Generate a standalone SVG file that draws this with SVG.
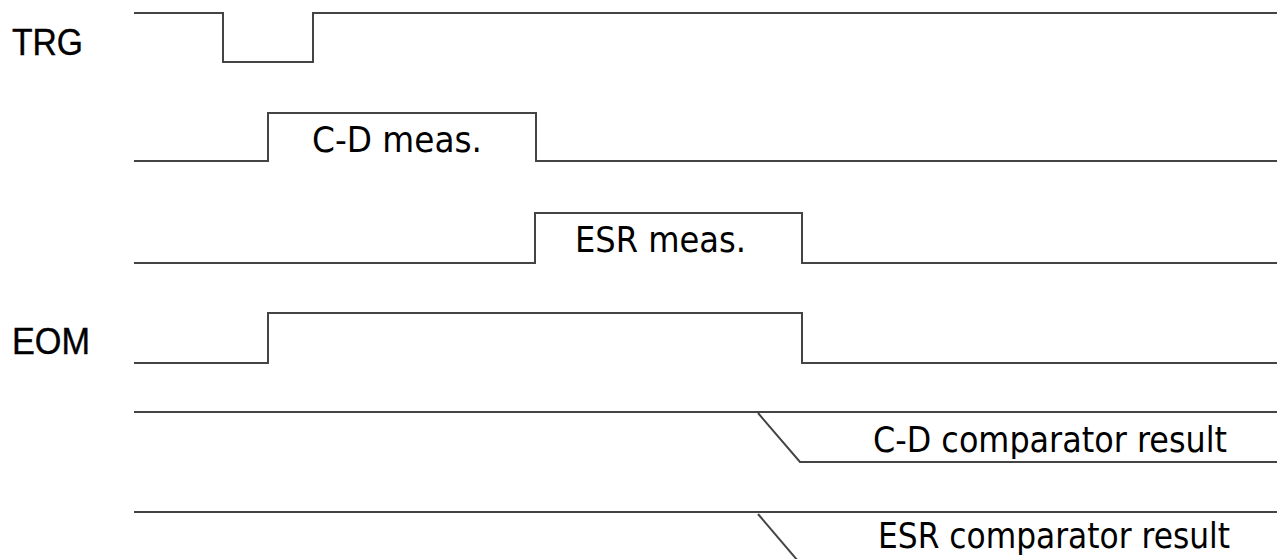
<svg xmlns="http://www.w3.org/2000/svg" width="1277" height="559" viewBox="0 0 1277 559">
<style>
.sig{fill:none;stroke:#444;stroke-width:2;stroke-linejoin:miter}
.lbl{font-family:"Liberation Sans",Arial,sans-serif;font-size:37px;fill:#000;stroke:#000;stroke-width:0.4}
.t{font-family:"DejaVu Sans",Verdana,sans-serif;font-size:35px;fill:#000}
</style>
<rect width="1277" height="559" fill="#fff"/>
<g id="trg">
<text class="lbl" x="12" y="55" textLength="71" lengthAdjust="spacingAndGlyphs">TRG</text>
<path class="sig" d="M134,13 H223 V62 H313 V13 H1277"/>
</g>
<g id="cd-meas">
<path class="sig" d="M134,161 H268 V113 H536 V161 H1277"/>
<text class="t" x="312" y="152" textLength="170" lengthAdjust="spacingAndGlyphs">C-D meas.</text>
</g>
<g id="esr-meas">
<path class="sig" d="M134,263 H535 V213 H802 V263 H1277"/>
<text class="t" x="575" y="252" textLength="171" lengthAdjust="spacingAndGlyphs">ESR meas.</text>
</g>
<g id="eom">
<text class="lbl" x="12" y="354" textLength="78" lengthAdjust="spacingAndGlyphs">EOM</text>
<path class="sig" d="M134,363 H268 V313 H802 V363 H1277"/>
</g>
<g id="cd-comp">
<path class="sig" d="M134,412 H1277"/>
<path class="sig" d="M758,413 L800,462 H1277"/>
<text class="t" x="873" y="452" textLength="354" lengthAdjust="spacingAndGlyphs">C-D comparator result</text>
</g>
<g id="esr-comp">
<path class="sig" d="M134,512 H1277"/>
<path class="sig" d="M758,514 L798,561"/>
<text class="t" x="878" y="548" textLength="352" lengthAdjust="spacingAndGlyphs">ESR comparator result</text>
</g>
</svg>
